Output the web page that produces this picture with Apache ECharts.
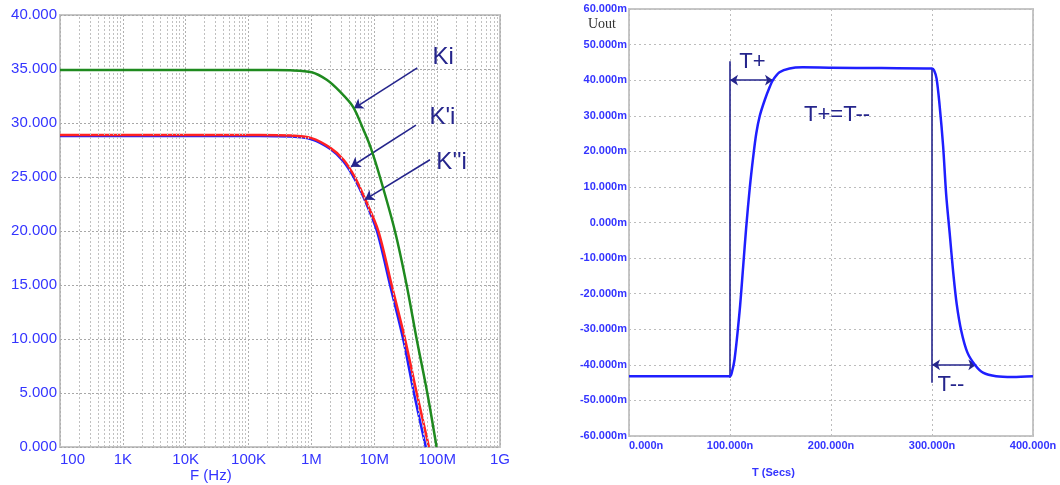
<!DOCTYPE html>
<html>
<head>
<meta charset="utf-8">
<script src="https://cdn.jsdelivr.net/npm/echarts@6/dist/echarts.min.js"></script>
<style>
html,body{margin:0;padding:0;background:#fff;}
#c{width:1060px;height:485px;}
</style>
</head>
<body>
<div id="c"></div>
<script>
// ---------- data (left: frequency response) ----------
const freqTickLabels = ['100', '1K', '10K', '100K', '1M', '10M', '100M', '1G'];
const kiFreq  = [100, 1e4, 1e5, 2.5e5, 4.6e5, 1.01e6, 1.75e6, 2.85e6, 4.6e6, 6.7e6, 8.55e6, 1.23e7, 2.13e7, 3.27e7, 4.72e7, 6.97e7, 9.8e7];
const kiGain  = [34.9, 34.9, 34.9, 34.9, 34.88, 34.7, 34.0, 32.9, 31.5, 29.4, 27.9, 25, 20, 15, 10, 5, 0];
const k1Freq  = [100, 1e4, 1.5e5, 4.6e5, 1.0e6, 2.0e6, 3.24e6, 4.9e6, 7.1e6, 1.16e7, 1.89e7, 3.08e7, 4.73e7, 7.4e7];
const k1Gain  = [28.9, 28.9, 28.9, 28.85, 28.6, 27.7, 26.6, 25, 23.0, 20, 15, 10, 5, 0];
const k2Freq  = [100, 1e4, 1.5e5, 4.6e5, 1.0e6, 2.0e6, 3.16e6, 4.68e6, 6.9e6, 1.1e7, 1.78e7, 2.88e7, 4.27e7, 6.6e7];
const k2Gain  = [28.8, 28.8, 28.8, 28.75, 28.5, 27.6, 26.5, 25, 23.0, 20, 15, 10, 5, 0];
const gainTickLabels = ['0.000', '5.000', '10.000', '15.000', '20.000', '25.000', '30.000', '35.000', '40.000'];

// ---------- data (right: transient) ----------
const timeTickLabels = ['0.000n', '100.000n', '200.000n', '300.000n', '400.000n'];
const uoutTickLabels = ['-60.000m', '-50.000m', '-40.000m', '-30.000m', '-20.000m', '-10.000m', '0.000m',
                        '10.000m', '20.000m', '30.000m', '40.000m', '50.000m', '60.000m'];
const uoutTime = [0, 50, 100, 101.5, 104.5, 109.5, 113, 116, 119.5, 123, 126, 129.5, 134.5, 139.5, 142.5, 149, 159, 172, 200, 250,
                  300, 302, 304.5, 307.5, 311, 314, 317.5, 321, 324.5, 329, 335, 343, 350.5, 363.5, 380, 400];
const uoutVal  = [-43.2, -43.2, -43.2, -42.5, -38.5, -25, -12.5, -1.5, 9.5, 18.5, 25, 30, 34.5, 38.2, 40, 42.2, 43.3, 43.6, 43.5, 43.4,
                  43.3, 42.8, 40.5, 33, 21.5, 8, -3, -14, -23, -30.5, -36.5, -40.2, -42.2, -43.2, -43.4, -43.2];

const zip = (a, b) => a.map((v, i) => [v, b[i]]);

const FONT = 'Liberation Sans, Arial, sans-serif';
const LABEL_BLUE = '#3434ff';
const NAVY = '#25258c';

// minor grid positions on the log axis (2..9 per decade)
const minorFreqs = [];
for (let k = 2; k <= 8; k++) for (let m = 2; m <= 9; m++) minorFreqs.push(m * Math.pow(10, k));

function textPoint(coord, text, size) {
  return {
    coord: coord, symbol: 'rect', symbolSize: 1, itemStyle: { color: 'rgba(0,0,0,0)' },
    label: { show: true, formatter: text, position: [0, 0], align: 'left', verticalAlign: 'middle',
             color: NAVY, fontSize: size, fontFamily: FONT }
  };
}
function arrow(from, to, both) {
  return [{ coord: from, symbol: both ? 'arrow' : 'none' }, { coord: to, symbol: 'arrow' }];
}

const chart = echarts.init(document.getElementById('c'), null, { renderer: 'canvas' });
chart.setOption({
  animation: false,
  backgroundColor: '#ffffff',
  grid: [
    { left: 60, top: 15, width: 440, height: 432, show: true, borderColor: '#c6c6c6', borderWidth: 2, backgroundColor: 'rgba(0,0,0,0)' },
    { left: 629, top: 9, width: 404, height: 427, show: true, borderColor: '#c6c6c6', borderWidth: 2, backgroundColor: 'rgba(0,0,0,0)' }
  ],
  xAxis: [
    { type: 'log', gridIndex: 0, logBase: 10, min: 100, max: 1e9, splitNumber: 7,
      axisLine: { show: false }, axisTick: { show: false },
      axisLabel: { color: LABEL_BLUE, fontSize: 15, fontFamily: FONT, margin: 5, alignMinLabel: 'left',
                   formatter: v => freqTickLabels[Math.round(Math.log10(v)) - 2] },
      splitLine: { show: true, lineStyle: { color: '#b0b0b0', type: [2, 2], width: 1 } } },
    { type: 'value', gridIndex: 1, min: 0, max: 400, interval: 100,
      axisLine: { show: false }, axisTick: { show: false },
      axisLabel: { color: LABEL_BLUE, fontSize: 11, fontWeight: 'bold', fontFamily: FONT, margin: 4, alignMinLabel: 'left',
                   formatter: v => timeTickLabels[Math.round(v / 100)] },
      splitLine: { show: true, lineStyle: { color: '#bcbcbc', type: [2, 3], width: 1 } } }
  ],
  yAxis: [
    { type: 'value', gridIndex: 0, min: 0, max: 40, interval: 5,
      axisLine: { show: false }, axisTick: { show: false },
      axisLabel: { color: LABEL_BLUE, fontSize: 15, fontFamily: FONT, margin: 3,
                   formatter: v => gainTickLabels[Math.round(v / 5)] },
      splitLine: { show: true, lineStyle: { color: '#a8a8a8', type: [2, 2], width: 1 } } },
    { type: 'value', gridIndex: 1, min: -60, max: 60, interval: 10,
      axisLine: { show: false }, axisTick: { show: false },
      axisLabel: { color: LABEL_BLUE, fontSize: 11, fontWeight: 'bold', fontFamily: FONT, margin: 2,
                   formatter: v => uoutTickLabels[Math.round((v + 60) / 10)] },
      splitLine: { show: true, lineStyle: { color: '#bcbcbc', type: [2, 3], width: 1 } } }
  ],
  series: [
    { type: 'line', xAxisIndex: 0, yAxisIndex: 0, data: [], z: 1, silent: true,
      markLine: { silent: true, symbol: 'none', label: { show: false },
                  lineStyle: { color: '#c0c0c0', type: [2, 2], width: 1 },
                  data: minorFreqs.map(v => ({ xAxis: v })) } },
    { name: "K''i", type: 'line', xAxisIndex: 0, yAxisIndex: 0, data: zip(k2Freq, k2Gain), z: 3,
      showSymbol: false, smooth: 0.3, lineStyle: { color: '#1f1fff', width: 2.5 } },
    { name: "K'i", type: 'line', xAxisIndex: 0, yAxisIndex: 0, data: zip(k1Freq, k1Gain), z: 4,
      showSymbol: false, smooth: 0.3, lineStyle: { color: '#ff2222', width: 2.5 } },
    { name: 'Ki', type: 'line', xAxisIndex: 0, yAxisIndex: 0, data: zip(kiFreq, kiGain), z: 5,
      showSymbol: false, smooth: 0.3, lineStyle: { color: '#1f8a1f', width: 2.5 },
      markLine: { silent: true, symbolSize: 9, label: { show: false },
                  lineStyle: { color: NAVY, width: 1.6, type: 'solid' },
                  data: [ arrow([4.83e7, 35.1], [4.75e6, 31.36]),
                          arrow([4.6e7, 29.8], [4.27e6, 25.95]),
                          arrow([7.69e7, 26.6], [7.1e6, 22.9]) ] },
      markPoint: { silent: true, data: [ textPoint([8.6e7, 36.0], 'Ki', 24),
                                         textPoint([7.7e7, 30.46], "K'i", 24),
                                         textPoint([9.9e7, 26.3], "K''i", 24) ] } },
    { name: 'Uout', type: 'line', xAxisIndex: 1, yAxisIndex: 1, data: zip(uoutTime, uoutVal), z: 5,
      showSymbol: false, smooth: 0.3, lineStyle: { color: '#1f1fff', width: 2.5 },
      markLine: { silent: true, symbolSize: 8, label: { show: false },
                  lineStyle: { color: NAVY, width: 1.6, type: 'solid' },
                  data: [ [{ coord: [100, 45.3], symbol: 'none' }, { coord: [100, -43.6], symbol: 'none' }],
                          [{ coord: [300, 43.4], symbol: 'none' }, { coord: [300, -45.0], symbol: 'none' }],
                          arrow([100, 40], [142.6, 40], true),
                          arrow([300, -40], [343.9, -40], true) ] },
      markPoint: { silent: true, data: [ textPoint([109.6, 44.9], 'T+', 22),
                                         textPoint([173.8, 30.0], 'T+=T--', 22),
                                         textPoint([306, -45.8], 'T--', 22) ] } }
  ],
  graphic: [
    { type: 'text', left: 190, top: 468, style: { text: 'F (Hz)', fill: LABEL_BLUE, font: '15px ' + FONT } },
    { type: 'text', left: 752, top: 467, style: { text: 'T (Secs)', fill: LABEL_BLUE, font: 'bold 11px ' + FONT } },
    { type: 'text', left: 588, top: 17, style: { text: 'Uout', fill: '#333333', font: '14px Liberation Serif, Times New Roman, serif' } }
  ]
});
</script>
</body>
</html>
